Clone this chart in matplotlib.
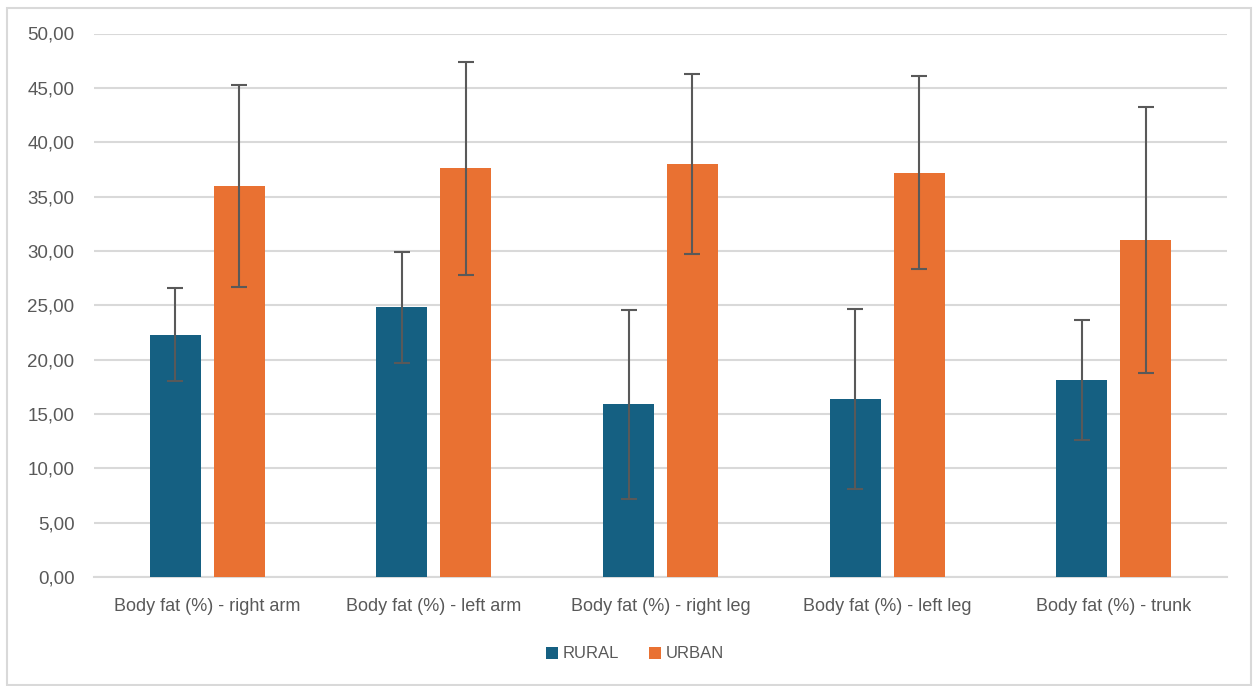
import numpy as np
import matplotlib
matplotlib.use("Agg")
import matplotlib.pyplot as plt
from matplotlib.patches import Rectangle
from matplotlib.ticker import FuncFormatter

categories = ["Body fat (%) - right arm", "Body fat (%) - left arm",
              "Body fat (%) - right leg", "Body fat (%) - left leg",
              "Body fat (%) - trunk"]
rural = [22.3, 24.8, 15.9, 16.4, 18.1]
rural_sd = [4.3, 5.1, 8.7, 8.3, 5.5]
urban = [36.0, 37.6, 38.0, 37.2, 31.0]
urban_sd = [9.3, 9.8, 8.3, 8.9, 12.2]

rural_color = "#156082"
urban_color = "#E97132"
text_color = "#595959"
grid_color = "#d9d9d9"

plt.rcParams['font.family'] = ['Liberation Sans', 'DejaVu Sans']

fig = plt.figure(figsize=(12.53, 6.86), dpi=100)
ax = fig.add_axes([94 / 1253, 1 - 577 / 686, (1227 - 94) / 1253, (577 - 33.5) / 686])

x = np.arange(len(categories))
w = 0.225
off = 0.141
err_kw = dict(ecolor="#595959", elinewidth=1.5, capsize=5.5, capthick=1.5)
ax.bar(x - off, rural, w, yerr=rural_sd, color=rural_color, label="RURAL",
       error_kw=err_kw, zorder=3)
ax.bar(x + off, urban, w, yerr=urban_sd, color=urban_color, label="URBAN",
       error_kw=err_kw, zorder=3)

ax.set_xlim(-0.5, len(categories) - 0.5)
ax.set_ylim(0, 50)
ax.set_yticks(np.arange(0, 51, 5))
ax.yaxis.set_major_formatter(FuncFormatter(lambda v, p: f"{v:.2f}".replace(".", ",")))
ax.set_xticks(x)
ax.set_xticklabels(categories, fontsize=13)
ax.tick_params(axis="y", length=0, labelsize=13.5, labelcolor=text_color, pad=14)
ax.tick_params(axis="x", length=0, labelcolor=text_color, pad=15)
ax.grid(axis="y", color=grid_color, linewidth=1.5, zorder=0)
for s in ["top", "right", "left"]:
    ax.spines[s].set_visible(False)
ax.spines["bottom"].set_color(grid_color)
ax.spines["bottom"].set_linewidth(1.5)

fig.legend(loc="center", bbox_to_anchor=(0.507, 1 - 654 / 686), ncol=2,
           frameon=False, fontsize=12, labelcolor=text_color,
           handlelength=0.7, handleheight=0.7, handletextpad=0.3, columnspacing=1.8)

fig.patches.append(Rectangle((7 / 1253, 1 - 685 / 686), 1244 / 1253, 677 / 686,
                             transform=fig.transFigure, fill=False,
                             edgecolor=grid_color, linewidth=1.5))

fig.savefig("out.png", dpi=100)
